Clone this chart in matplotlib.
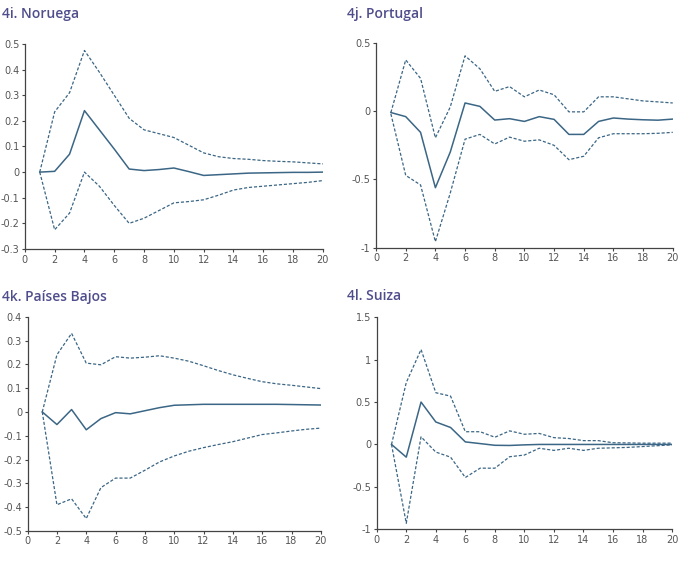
import numpy as np
import matplotlib.pyplot as plt

# Horizonte (periodos)
periodos = list(range(1, 21))

# 4i. Noruega
nor_central = [0, 0.003, 0.07, 0.24, 0.165, 0.09, 0.012, 0.006, 0.01, 0.016,
               0.002, -0.013, -0.01, -0.007, -0.004, -0.003, -0.002, -0.001, -0.001, 0]
nor_sup = [0, 0.235, 0.31, 0.475, 0.39, 0.30, 0.21, 0.165, 0.15, 0.135,
           0.105, 0.075, 0.06, 0.053, 0.05, 0.045, 0.042, 0.04, 0.036, 0.032]
nor_inf = [0, -0.225, -0.16, 0.0, -0.055, -0.13, -0.2, -0.18, -0.15, -0.12,
           -0.115, -0.108, -0.09, -0.07, -0.06, -0.055, -0.05, -0.045, -0.04, -0.033]

# 4j. Portugal
por_central = [-0.01, -0.04, -0.155, -0.56, -0.3, 0.06, 0.035, -0.065, -0.055, -0.075,
               -0.04, -0.06, -0.17, -0.17, -0.075, -0.05, -0.058, -0.063, -0.066, -0.058]
por_sup = [-0.01, 0.375, 0.24, -0.195, 0.03, 0.405, 0.31, 0.145, 0.18, 0.105,
           0.155, 0.12, -0.005, -0.005, 0.105, 0.105, 0.09, 0.075, 0.068, 0.06]
por_inf = [-0.02, -0.47, -0.54, -0.955, -0.6, -0.205, -0.17, -0.24, -0.19, -0.22,
           -0.21, -0.25, -0.355, -0.33, -0.195, -0.165, -0.165, -0.165, -0.162, -0.155]

# 4k. Países Bajos
pb_central = [0, -0.053, 0.01, -0.075, -0.028, -0.003, -0.008, 0.005, 0.018, 0.028,
              0.03, 0.032, 0.032, 0.032, 0.032, 0.032, 0.032, 0.031, 0.03, 0.029]
pb_sup = [0, 0.24, 0.33, 0.205, 0.198, 0.232, 0.226, 0.23, 0.236, 0.226,
          0.213, 0.194, 0.174, 0.156, 0.141, 0.127, 0.118, 0.112, 0.105, 0.098]
pb_inf = [0, -0.39, -0.365, -0.448, -0.318, -0.278, -0.278, -0.245, -0.21, -0.185,
          -0.165, -0.15, -0.137, -0.125, -0.11, -0.095, -0.088, -0.08, -0.073, -0.068]

# 4l. Suiza
sui_central = [0, -0.15, 0.5, 0.265, 0.2, 0.03, 0.01, -0.01, -0.012, -0.005,
               0, 0, 0, 0, 0, 0, 0, 0, 0, 0]
sui_sup = [0, 0.73, 1.12, 0.61, 0.57, 0.15, 0.15, 0.085, 0.16, 0.12,
           0.13, 0.08, 0.07, 0.045, 0.045, 0.02, 0.018, 0.015, 0.015, 0.015]
sui_inf = [0, -0.93, 0.09, -0.09, -0.15, -0.39, -0.28, -0.28, -0.145, -0.125,
           -0.045, -0.07, -0.045, -0.07, -0.045, -0.04, -0.035, -0.025, -0.015, -0.005]

titulos = ["4i. Noruega", "4j. Portugal", "4k. Países Bajos", "4l. Suiza"]
yticks_list = [
    [-0.3, -0.2, -0.1, 0, 0.1, 0.2, 0.3, 0.4, 0.5],
    [-1, -0.5, 0, 0.5],
    [-0.5, -0.4, -0.3, -0.2, -0.1, 0, 0.1, 0.2, 0.3, 0.4],
    [-1, -0.5, 0, 0.5, 1, 1.5],
]
series = [
    (nor_central, nor_sup, nor_inf),
    (por_central, por_sup, por_inf),
    (pb_central, pb_sup, pb_inf),
    (sui_central, sui_sup, sui_inf),
]
# posiciones de los ejes [left, bottom, width, height]
posiciones = [
    [0.036, 0.570, 0.432, 0.354],
    [0.545, 0.572, 0.430, 0.354],
    [0.040, 0.083, 0.425, 0.370],
    [0.546, 0.086, 0.428, 0.366],
]
titulo_pos = [(0.003, 0.988), (0.503, 0.988), (0.003, 0.500), (0.503, 0.500)]

color_linea = '#3b6685'
color_titulo = '#4f4d8c'
color_texto = '#555555'

fig = plt.figure(figsize=(6.9, 5.79), dpi=100)

for i in range(4):
    ax = fig.add_axes(posiciones[i])
    c, sup, inf = series[i]
    ax.plot(periodos, c, color=color_linea, lw=1.1)
    ax.plot(periodos, sup, color=color_linea, lw=0.9, linestyle=(0, (2.5, 1.5)))
    ax.plot(periodos, inf, color=color_linea, lw=0.9, linestyle=(0, (2.5, 1.5)))
    yt = yticks_list[i]
    ax.set_ylim(yt[0], yt[-1])
    ax.set_xlim(0, 20)
    ax.set_yticks(yt)
    ax.set_yticklabels([f"{v:g}" for v in yt])
    ax.set_xticks(range(0, 21, 2))
    for s in ['top', 'right']:
        ax.spines[s].set_visible(False)
    for s in ['left', 'bottom']:
        ax.spines[s].set_color('#444444')
        ax.spines[s].set_linewidth(0.9)
    ax.tick_params(axis='both', labelsize=7, colors='#444444', labelcolor=color_texto,
                   length=2.5, width=0.8, pad=1.5)
    fig.text(titulo_pos[i][0], titulo_pos[i][1], titulos[i], fontsize=10,
             fontweight='semibold', color=color_titulo, ha='left', va='top',
             fontfamily='Open Sans')

fig.savefig('out.png', dpi=100, facecolor='white')
